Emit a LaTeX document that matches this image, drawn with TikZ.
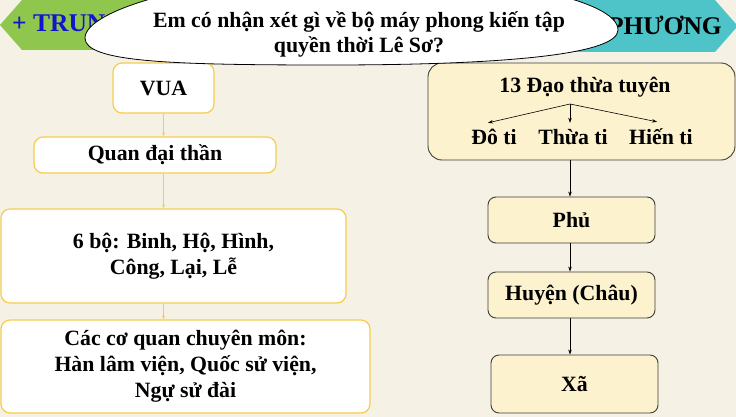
\documentclass[tikz,border=0pt]{standalone}
\usepackage{fontspec}
\setmainfont{Liberation Serif}
\usetikzlibrary{positioning,arrows.meta,calc}

\definecolor{bgpaper}{RGB}{245,242,229}
\definecolor{leafgreen}{RGB}{142,198,78}
\definecolor{seacyan}{RGB}{78,196,200}
\definecolor{headblue}{RGB}{20,20,205}
\definecolor{goldline}{RGB}{247,204,77}
\definecolor{creamfill}{RGB}{253,242,206}
\definecolor{darkline}{RGB}{60,60,60}

\tikzset{
  txt/.style={font=\bfseries\fontsize{21.8}{26}\selectfont, align=center},
  kingbox/.style={txt, draw=goldline, line width=1.2pt, fill=white, rounded corners=9pt, inner sep=0pt},
  localbox/.style={txt, draw=darkline, line width=0.9pt, fill=creamfill, rounded corners=8pt, inner sep=0pt},
  sublabel/.style={txt, anchor=base, inner sep=0pt, text height=17pt},
  goldarrow/.style={goldline, line width=1pt, -{Stealth[length=4pt,width=3pt]}},
  blackarrow/.style={black, line width=0.6pt, -{Stealth[length=5pt,width=3.5pt]}},
  heading/.style={font=\bfseries\fontsize{25.5}{30}\selectfont, inner sep=0pt}
}

\begin{document}
\begin{tikzpicture}[x=1pt,y=-1pt]
  \fill[bgpaper] (0,0) rectangle (736,417);
  \useasboundingbox (0,0) rectangle (736,417);

  % trung uong
  \node[kingbox, minimum width=101pt, minimum height=50pt] (vua) at (163.5,88) {VUA};
  \node[kingbox, minimum width=242pt, minimum height=36pt] (quan) at (155,155) {Quan đại thần};
  \node[kingbox, minimum width=345pt, minimum height=94pt] (sixbo) at (173.5,256) {6 bộ: Binh, Hộ, Hình,\\Công, Lại, Lễ};
  \node[kingbox, minimum width=369pt, minimum height=93pt] (coquan) at (185.5,366.5) {Các cơ quan chuyên môn:\\Hàn lâm viện, Quốc sử viện,\\Ngự sử đài};
  \draw[goldarrow] (vua.south) -- (vua.south |- quan.north);
  \draw[goldarrow] (quan.south -| vua) -- (vua |- sixbo.north);
  \draw[goldarrow] (sixbo.south -| vua) -- (vua |- coquan.north);

  % dia phuong
  \node[localbox, rounded corners=14pt, minimum width=307pt, minimum height=97pt] (dao) at (581.5,111.5) {};
  \node[txt] (daotitle) at (585,87) {13 Đạo thừa tuyên};
  \coordinate (split) at (570,104);
  \node[sublabel] (doti) at (494,145) {Đô ti};
  \node[sublabel] (thuati) at (573,145) {Thừa ti};
  \node[sublabel] (hienti) at (661,145) {Hiến ti};
  \draw[blackarrow] (split) -- ($(doti.north)+(-6,-5)$);
  \draw[blackarrow] (split) -- ($(thuati.north)+(-3,-5)$);
  \draw[blackarrow] (split) -- ($(hienti.north)+(-4,-6)$);

  \node[localbox, minimum width=167pt, minimum height=46pt] (phu) at (571.5,220) {Phủ};
  \node[localbox, minimum width=167pt, minimum height=46pt] (huyen) at (571.5,295) {Huyện (Châu)};
  \node[localbox, minimum width=167pt, minimum height=58pt] (xa) at (574.5,384) {Xã};
  \draw[blackarrow] (dao.south -| split) -- (split |- phu.north);
  \draw[blackarrow] (phu.south -| split) -- (split |- huyen.north);
  \draw[blackarrow] (huyen.south -| split) -- (split |- xa.north);

  % tieu de
  \fill[leafgreen] (0,25) -- (22,0) -- (320,0) -- (320,50) -- (22,50) -- cycle;
  \fill[seacyan] (400,0) -- (715,0) -- (736,24) -- (736,28) -- (715,52) -- (400,52) -- cycle;
  \node[heading, text=headblue, anchor=base west] (trunguong) at (12,32) {+ TRUNG};
  \node[heading, anchor=base east] (diaphuong) at (722,35) {PHƯƠNG};

  % cau hoi
  \draw[fill=white, line width=0.8pt] (85,38) .. controls (85,62) and (170,65) .. (330,65)
    .. controls (500,65) and (618,55) .. (618,30)
    .. controls (618,0) and (500,-25) .. (352,-25)
    .. controls (200,-25) and (85,10) .. (85,38) -- cycle;
  \node[txt] (question) at (359,34) {Em có nhận xét gì về bộ máy phong kiến tập\\[-1pt]quyền thời Lê Sơ?};
\end{tikzpicture}
\end{document}
